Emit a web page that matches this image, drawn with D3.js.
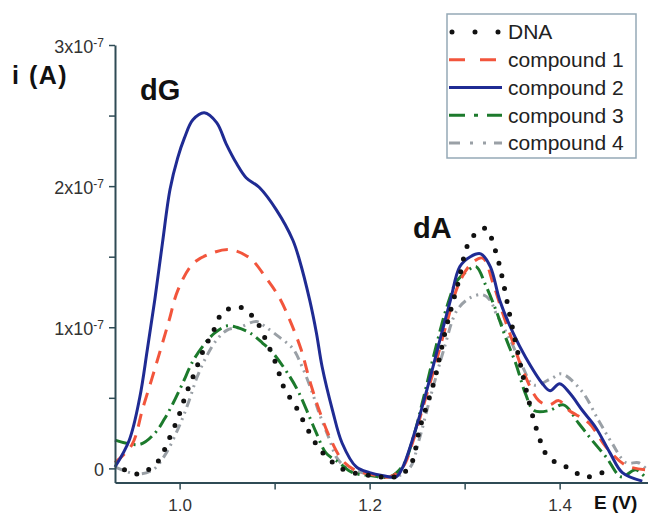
<!DOCTYPE html>
<html>
<head>
<meta charset="utf-8">
<script src="https://cdn.jsdelivr.net/npm/d3@7"></script>
<style>
  body { margin: 0; background: #fff; }
  svg { display: block; font-family: "Liberation Sans", Arial, sans-serif; }
</style>
</head>
<body>
<svg id="chart"></svg>
<script>
// ---- data: potential E (V), current i in units of 1e-7 A ----
let seriesNames = ['DNA', 'compound 1', 'compound 2', 'compound 3', 'compound 4'];

let dnaPts = [
  [0.942, -0.01], [0.956, -0.04], [0.976, 0.04], [0.989, 0.21], [0.999, 0.37], [1.007, 0.53],
  [1.016, 0.68], [1.024, 0.82], [1.036, 0.98], [1.046, 1.11], [1.065, 1.14], [1.081, 1.04],
  [1.092, 0.89], [1.102, 0.73], [1.110, 0.57], [1.123, 0.43], [1.133, 0.30], [1.145, 0.16],
  [1.158, 0.06], [1.173, -0.01], [1.200, -0.05], [1.226, -0.06], [1.242, 0.01], [1.253, 0.29],
  [1.268, 0.62], [1.280, 0.98], [1.293, 1.31], [1.306, 1.62], [1.322, 1.70], [1.332, 1.55],
  [1.338, 1.40], [1.348, 1.07], [1.357, 0.79], [1.365, 0.55], [1.377, 0.25], [1.388, 0.08],
  [1.407, 0.01], [1.428, -0.06], [1.445, -0.03]
];

let comp1Pts = [
  [0.932, 0.04], [0.950, 0.17], [0.961, 0.42], [0.971, 0.64], [0.979, 0.82], [0.989, 1.05],
  [0.998, 1.26], [1.014, 1.45], [1.032, 1.52], [1.053, 1.55], [1.074, 1.49], [1.091, 1.35],
  [1.105, 1.21], [1.116, 1.05], [1.128, 0.84], [1.137, 0.62], [1.147, 0.41], [1.158, 0.22],
  [1.171, 0.06], [1.184, -0.01], [1.200, -0.04], [1.221, -0.06], [1.235, 0.01], [1.246, 0.20],
  [1.256, 0.43], [1.269, 0.73], [1.282, 1.05], [1.294, 1.31], [1.307, 1.45], [1.319, 1.49],
  [1.330, 1.31], [1.340, 1.10], [1.351, 0.89], [1.361, 0.70], [1.378, 0.48], [1.389, 0.45],
  [1.399, 0.48], [1.410, 0.41], [1.431, 0.32], [1.449, 0.15], [1.470, 0.02], [1.492, -0.01]
];

let comp2Pts = [
  [0.932, 0.01], [0.947, 0.20], [0.958, 0.50], [0.966, 0.84], [0.974, 1.20],
  [0.982, 1.60], [0.990, 1.98], [0.998, 2.20], [1.005, 2.34], [1.014, 2.47], [1.026, 2.52], [1.039, 2.45],
  [1.049, 2.30], [1.060, 2.16], [1.070, 2.06], [1.084, 1.99], [1.102, 1.83], [1.119, 1.62],
  [1.126, 1.48], [1.137, 1.19], [1.144, 0.96], [1.150, 0.72], [1.161, 0.41], [1.171, 0.18],
  [1.186, 0.01], [1.200, -0.03], [1.213, -0.05], [1.228, -0.06], [1.235, 0.01], [1.249, 0.29],
  [1.264, 0.65], [1.274, 0.91], [1.285, 1.19], [1.295, 1.43], [1.306, 1.50], [1.317, 1.52],
  [1.327, 1.43], [1.337, 1.19], [1.351, 0.96], [1.364, 0.79], [1.382, 0.60], [1.390, 0.55],
  [1.400, 0.60], [1.411, 0.53], [1.424, 0.41], [1.438, 0.29], [1.453, 0.11], [1.466, -0.03],
  [1.487, -0.09]
];

let comp3Pts = [
  [0.932, 0.20], [0.958, 0.17], [0.974, 0.25], [0.984, 0.35], [0.993, 0.46], [1.003, 0.60],
  [1.014, 0.76], [1.026, 0.88], [1.037, 0.96], [1.050, 1.01], [1.060, 1.00], [1.074, 0.96],
  [1.087, 0.89], [1.098, 0.82], [1.116, 0.65], [1.126, 0.53], [1.137, 0.36], [1.144, 0.25],
  [1.154, 0.11], [1.168, 0.04], [1.182, -0.03], [1.200, -0.05], [1.221, -0.06], [1.235, 0.02],
  [1.246, 0.22], [1.256, 0.48], [1.269, 0.84], [1.282, 1.16], [1.292, 1.33], [1.303, 1.40],
  [1.312, 1.43], [1.322, 1.30], [1.333, 1.12], [1.343, 0.93], [1.354, 0.74], [1.364, 0.53],
  [1.373, 0.41], [1.389, 0.41], [1.404, 0.45], [1.420, 0.32], [1.434, 0.20], [1.449, 0.08],
  [1.465, -0.06], [1.480, -0.01], [1.491, -0.07]
];

let comp4Pts = [
  [0.932, 0.01], [0.955, -0.04], [0.972, -0.01], [0.986, 0.11], [0.997, 0.26], [1.004, 0.37],
  [1.011, 0.50], [1.018, 0.64], [1.028, 0.79], [1.039, 0.91], [1.050, 0.98], [1.063, 1.00],
  [1.081, 1.04], [1.091, 1.00], [1.105, 0.93], [1.119, 0.85], [1.129, 0.72], [1.140, 0.53],
  [1.147, 0.39], [1.158, 0.20], [1.165, 0.08], [1.175, 0.01], [1.200, -0.04], [1.226, -0.06],
  [1.242, 0.00], [1.252, 0.20], [1.263, 0.48], [1.278, 0.84], [1.292, 1.12], [1.306, 1.21],
  [1.319, 1.23], [1.327, 1.19], [1.333, 1.10], [1.348, 0.91], [1.361, 0.72], [1.373, 0.59],
  [1.392, 0.64], [1.402, 0.67], [1.423, 0.55], [1.441, 0.34], [1.455, 0.18], [1.470, 0.04],
  [1.483, 0.04], [1.492, -0.01]
];

let xTicks = [1.0, 1.1, 1.2, 1.3, 1.4];
let xTickLabels = ['1.0', '', '1.2', '', '1.4'];
let yTicks = [0, 0.5, 1, 1.5, 2, 2.5, 3];
let yTickLabels = ['0', '', '1x10', '', '2x10', '', '3x10'];

// ---- chart ----
function getConfig() {
  let width = 648;
  let height = 515;
  let margin = { top: 45, bottom: 32, left: 115, right: 0 };
  let container = d3.select('#chart').attr('width', width).attr('height', height);
  return { width, height, margin, container };
}

function getScales(config) {
  let { width, height, margin } = config;
  let xScale = d3.scaleLinear()
    .domain([0.932, 1.493])
    .range([margin.left, width - margin.right]);
  let yScale = d3.scaleLinear()
    .domain([-0.1, 3.0])
    .range([height - margin.bottom - 0.5, margin.top]);
  return { xScale, yScale };
}

function getStyles() {
  return {
    'DNA':        { color: '#111111', width: 5,   dash: '0 13', cap: 'round', legendDash: '0 23' },
    'compound 1': { color: '#f2553c', width: 3,   dash: '13 9', cap: 'butt',  legendDash: '16 15' },
    'compound 2': { color: '#1f2b93', width: 3,   dash: null,   cap: 'butt',  legendDash: null },
    'compound 3': { color: '#1c7a2c', width: 3,   dash: '14 5 2 5', cap: 'butt', legendDash: '16 9 4 9' },
    'compound 4': { color: '#9aa0a6', width: 3,   dash: '9 5 2 5 2 5', cap: 'butt', legendDash: '11 10 3 10 3 8' }
  };
}

function drawAxes(scales, config) {
  let { xScale, yScale } = scales;
  let { container, margin } = config;
  let axisColor = '#2f4b55';

  let axisX = d3.axisBottom(xScale)
    .tickValues(xTicks)
    .tickSize(7)
    .tickSizeOuter(0)
    .tickPadding(9)
    .tickFormat((d, i) => xTickLabels[i]);
  let gx = container.append('g')
    .attr('transform', `translate(0,${yScale(-0.1)})`)
    .call(axisX);

  let axisY = d3.axisLeft(yScale)
    .tickValues(yTicks)
    .tickSize(6)
    .tickSizeOuter(0)
    .tickPadding(5)
    .tickFormat((d, i) => yTickLabels[i]);
  let gy = container.append('g')
    .attr('transform', `translate(${margin.left},0)`)
    .call(axisY);

  [gx, gy].forEach(g => {
    g.select('.domain').attr('stroke', axisColor).attr('stroke-width', 2);
    g.selectAll('.tick line').attr('stroke', axisColor).attr('stroke-width', 1.5);
    g.selectAll('.tick text')
      .attr('fill', '#333')
      .style('font-size', '17px')
      .style('font-family', '"Liberation Sans", Arial, sans-serif');
  });
  gy.selectAll('.tick text').style('font-size', '18px');

  // superscript exponent on the y labels
  gy.selectAll('.tick text')
    .attr('dy', '0.4em')
    .filter((d, i) => yTickLabels[i].length > 1)
    .append('tspan')
    .attr('dy', '-0.5em')
    .style('font-size', '12px')
    .text('-7');

  container.append('text')
    .attr('x', 12).attr('y', 84)
    .style('font-size', '25px').style('font-weight', 'bold')
    .attr('letter-spacing', 1.5)
    .attr('fill', '#111')
    .text('i (A)');

  container.append('text')
    .attr('x', 594).attr('y', 509)
    .style('font-size', '19px').style('font-weight', 'bold')
    .attr('fill', '#111')
    .text('E (V)');
}

function drawLines(scales, config) {
  let { xScale, yScale } = scales;
  let { container } = config;
  let styles = getStyles();
  let line = d3.line()
    .x(d => xScale(d[0]))
    .y(d => yScale(d[1]))
    .curve(d3.curveCatmullRom.alpha(0.5));

  let data = {
    'DNA': dnaPts,
    'compound 1': comp1Pts,
    'compound 2': comp2Pts,
    'compound 3': comp3Pts,
    'compound 4': comp4Pts
  };
  let order = ['compound 4', 'compound 3', 'compound 1', 'compound 2', 'DNA'];

  container.append('g').selectAll('path')
    .data(order)
    .enter()
    .append('path')
    .attr('d', name => line(data[name]))
    .attr('fill', 'none')
    .attr('stroke', name => styles[name].color)
    .attr('stroke-width', name => styles[name].width)
    .attr('stroke-linecap', name => styles[name].cap)
    .attr('stroke-linejoin', 'round')
    .attr('stroke-dasharray', name => styles[name].dash);

  // peak labels
  container.append('text')
    .attr('x', 140).attr('y', 100)
    .style('font-size', '29px').style('font-weight', 'bold')
    .attr('fill', '#111')
    .text('dG');
  container.append('text')
    .attr('x', 413).attr('y', 238)
    .style('font-size', '29px').style('font-weight', 'bold')
    .attr('fill', '#111')
    .text('dA');
}

function drawLegend(config) {
  let { container } = config;
  let styles = getStyles();
  let legend = container.append('g');
  legend.append('rect')
    .attr('x', 447).attr('y', 14)
    .attr('width', 189).attr('height', 144)
    .attr('fill', '#fff')
    .attr('stroke', '#95a9b6')
    .attr('stroke-width', 1.5);

  let rowY = d3.scalePoint().domain(seriesNames).range([32, 143]);

  let rows = legend.selectAll('.row').data(seriesNames)
    .enter().append('g').attr('class', 'row')
    .attr('transform', d => `translate(0,${rowY(d)})`);

  rows.append('line')
    .attr('x1', d => d === 'DNA' ? 452 : 449)
    .attr('x2', 502)
    .attr('y1', 0).attr('y2', 0)
    .attr('stroke', d => styles[d].color)
    .attr('stroke-width', d => styles[d].width)
    .attr('stroke-linecap', d => styles[d].cap)
    .attr('stroke-dasharray', d => styles[d].legendDash);

  rows.append('text')
    .attr('x', 508).attr('y', 0).attr('dy', '0.35em')
    .style('font-size', '21px')
    .attr('fill', '#222')
    .text(d => d);
}

function drawChart() {
  let config = getConfig();
  let scales = getScales(config);
  drawLines(scales, config);
  drawAxes(scales, config);
  drawLegend(config);
}

drawChart();
</script>
</body>
</html>
